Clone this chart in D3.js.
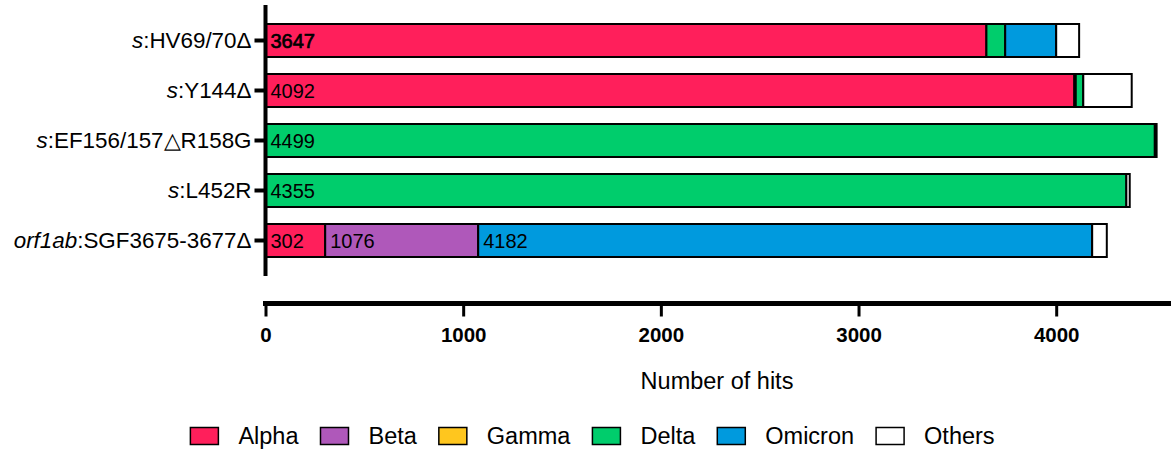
<!DOCTYPE html>
<html>
<head>
<meta charset="utf-8">
<script src="https://cdn.jsdelivr.net/npm/d3@7"></script>
<style>
  html, body { margin: 0; padding: 0; background: #fff; }
  svg { display: block; font-family: "Liberation Sans", Arial, Helvetica, sans-serif; }
</style>
</head>
<body>
<svg id="chart" width="1171" height="453"></svg>
<script>
// Mutations (rows, top to bottom) with their gene prefix
const genes     = ["s", "s", "s", "s", "orf1ab"];
const rowNames  = ["s:HV69/70Δ", "s:Y144Δ", "s:EF156/157△R158G", "s:L452R", "orf1ab:SGF3675-3677Δ"];

// Number of hits per lineage for each mutation
const lineages = ["Alpha", "Beta", "Gamma", "Delta", "Omicron", "Others"];
const alpha   = [3647, 4092,    0,    0,  302];
const beta    = [   0,    3,    0,    0,  774];
const gamma   = [   0,    4,    0,    0,    0];
const delta   = [  95,   38, 4499, 4355,    0];
const omicron = [ 258,    0,    0,    0, 3106];
const others  = [ 116,  245,    9,   17,   74];

// Segments that carry a value label (row, lineage); the label shows the running total
const labelled = [
  ["s:HV69/70Δ", "Alpha"],
  ["s:Y144Δ", "Alpha"],
  ["s:EF156/157△R158G", "Delta"],
  ["s:L452R", "Delta"],
  ["orf1ab:SGF3675-3677Δ", "Alpha"],
  ["orf1ab:SGF3675-3677Δ", "Beta"],
  ["orf1ab:SGF3675-3677Δ", "Omicron"]
];

const xTicks = [0, 1000, 2000, 3000, 4000];
const xTitle = "Number of hits";

const colors = {
  Alpha: "#FF1F5B", Beta: "#AF58BA", Gamma: "#FFC61E",
  Delta: "#00CD6C", Omicron: "#009ADE", Others: "#FFFFFF"
};

const seriesValues = { Alpha: alpha, Beta: beta, Gamma: gamma, Delta: delta, Omicron: omicron, Others: others };
const table = rowNames.map((name, i) => {
  const row = { name };
  lineages.forEach(l => row[l] = seriesValues[l][i]);
  return row;
});
const stacked = d3.stack().keys(lineages)(table);

const svg = d3.select("#chart");

const x = d3.scaleLinear().domain([0, 4600]).range([265.5, 1174.8]);
const y = d3.scaleBand().domain(rowNames).range([15.5, 265.5])
  .paddingInner(0.34).paddingOuter(0.17);

// Stacked bars
const layer = svg.append("g").selectAll("g")
  .data(stacked).join("g")
  .attr("fill", s => colors[s.key]);

layer.selectAll("rect")
  .data(s => s.map(d => Object.assign(d, { key: s.key })))
  .join("rect")
  .filter(d => d[1] - d[0] > 0)
  .attr("x", d => x(d[0]))
  .attr("y", d => y(d.data.name))
  .attr("width", d => x(d[1]) - x(d[0]))
  .attr("height", y.bandwidth())
  .attr("stroke", "#000")
  .attr("stroke-width", 2);

// Value labels (running total at the end of the segment)
const labelData = labelled.map(([row, key]) => {
  const s = stacked.find(t => t.key === key);
  const d = s[rowNames.indexOf(row)];
  return { row, key, start: d[0], end: d[1] };
});
svg.append("g").selectAll("text")
  .data(labelData).join("text")
  .attr("x", d => x(d.start) + 5)
  .attr("y", d => y(d.row) + y.bandwidth() / 2)
  .attr("dy", "0.36em")
  .attr("font-size", 20)
  .attr("fill", "#000")
  .attr("stroke", (d, i) => i === 0 ? "#000" : null)
  .attr("stroke-width", (d, i) => i === 0 ? 0.7 : null)
  .text(d => d.end);

// Y axis
const yAxis = svg.append("g")
  .attr("transform", `translate(${x(0)},0)`)
  .call(d3.axisLeft(y).tickSize(11).tickSizeOuter(0).tickPadding(4).tickFormat(() => ""));
yAxis.select(".domain").remove();
yAxis.selectAll(".tick line").attr("stroke", "#000").attr("stroke-width", 4);
svg.append("line")
  .attr("x1", x(0)).attr("x2", x(0))
  .attr("y1", 5).attr("y2", 276)
  .attr("stroke", "#000").attr("stroke-width", 4);

// Row labels with italic gene prefix
yAxis.selectAll(".tick").each(function(name, i) {
  const t = d3.select(this).select("text")
    .attr("x", -14)
    .attr("font-size", 22.4)
    .attr("fill", "#000")
    .attr("text-anchor", "end")
    .text(null);
  t.append("tspan").attr("font-style", "italic").text(genes[i]);
  t.append("tspan").text(name.slice(genes[i].length));
});

// X axis
const xAxisY = 303.5;
const xAxis = svg.append("g")
  .attr("transform", `translate(0,${xAxisY})`)
  .call(d3.axisBottom(x).tickValues(xTicks).tickSize(13).tickSizeOuter(0).tickPadding(11).tickFormat(d3.format("d")));
xAxis.select(".domain").remove();
xAxis.selectAll(".tick line").attr("stroke", "#000").attr("stroke-width", 3);
xAxis.selectAll(".tick text")
  .attr("font-size", 20.5)
  .attr("font-weight", "bold")
  .attr("fill", "#000");
svg.append("line")
  .attr("x1", 263).attr("x2", 1171)
  .attr("y1", xAxisY).attr("y2", xAxisY)
  .attr("stroke", "#000").attr("stroke-width", 5);

svg.append("text")
  .attr("x", 717).attr("y", 389)
  .attr("text-anchor", "middle")
  .attr("font-size", 23.5)
  .attr("fill", "#000")
  .text(xTitle);

// Legend
const legend = svg.append("g").attr("transform", "translate(0,436)");
const items = legend.selectAll("g").data(lineages).join("g");
items.append("rect")
  .attr("x", 0).attr("y", -8.5)
  .attr("width", 28).attr("height", 17)
  .attr("fill", d => colors[d])
  .attr("stroke", "#000").attr("stroke-width", 1.5);
items.append("text")
  .attr("x", 48).attr("dy", "0.36em")
  .attr("font-size", 23.5)
  .attr("fill", "#000")
  .text(d => d);
let widths = [];
items.each(function() { widths.push(48 + d3.select(this).select("text").node().getComputedTextLength()); });
const gap = 22;
const total = d3.sum(widths) + gap * (widths.length - 1);
let cx = 592.5 - total / 2;
items.each(function(d, i) {
  d3.select(this).attr("transform", `translate(${cx},0)`);
  cx += widths[i] + gap;
});
</script>
</body>
</html>
